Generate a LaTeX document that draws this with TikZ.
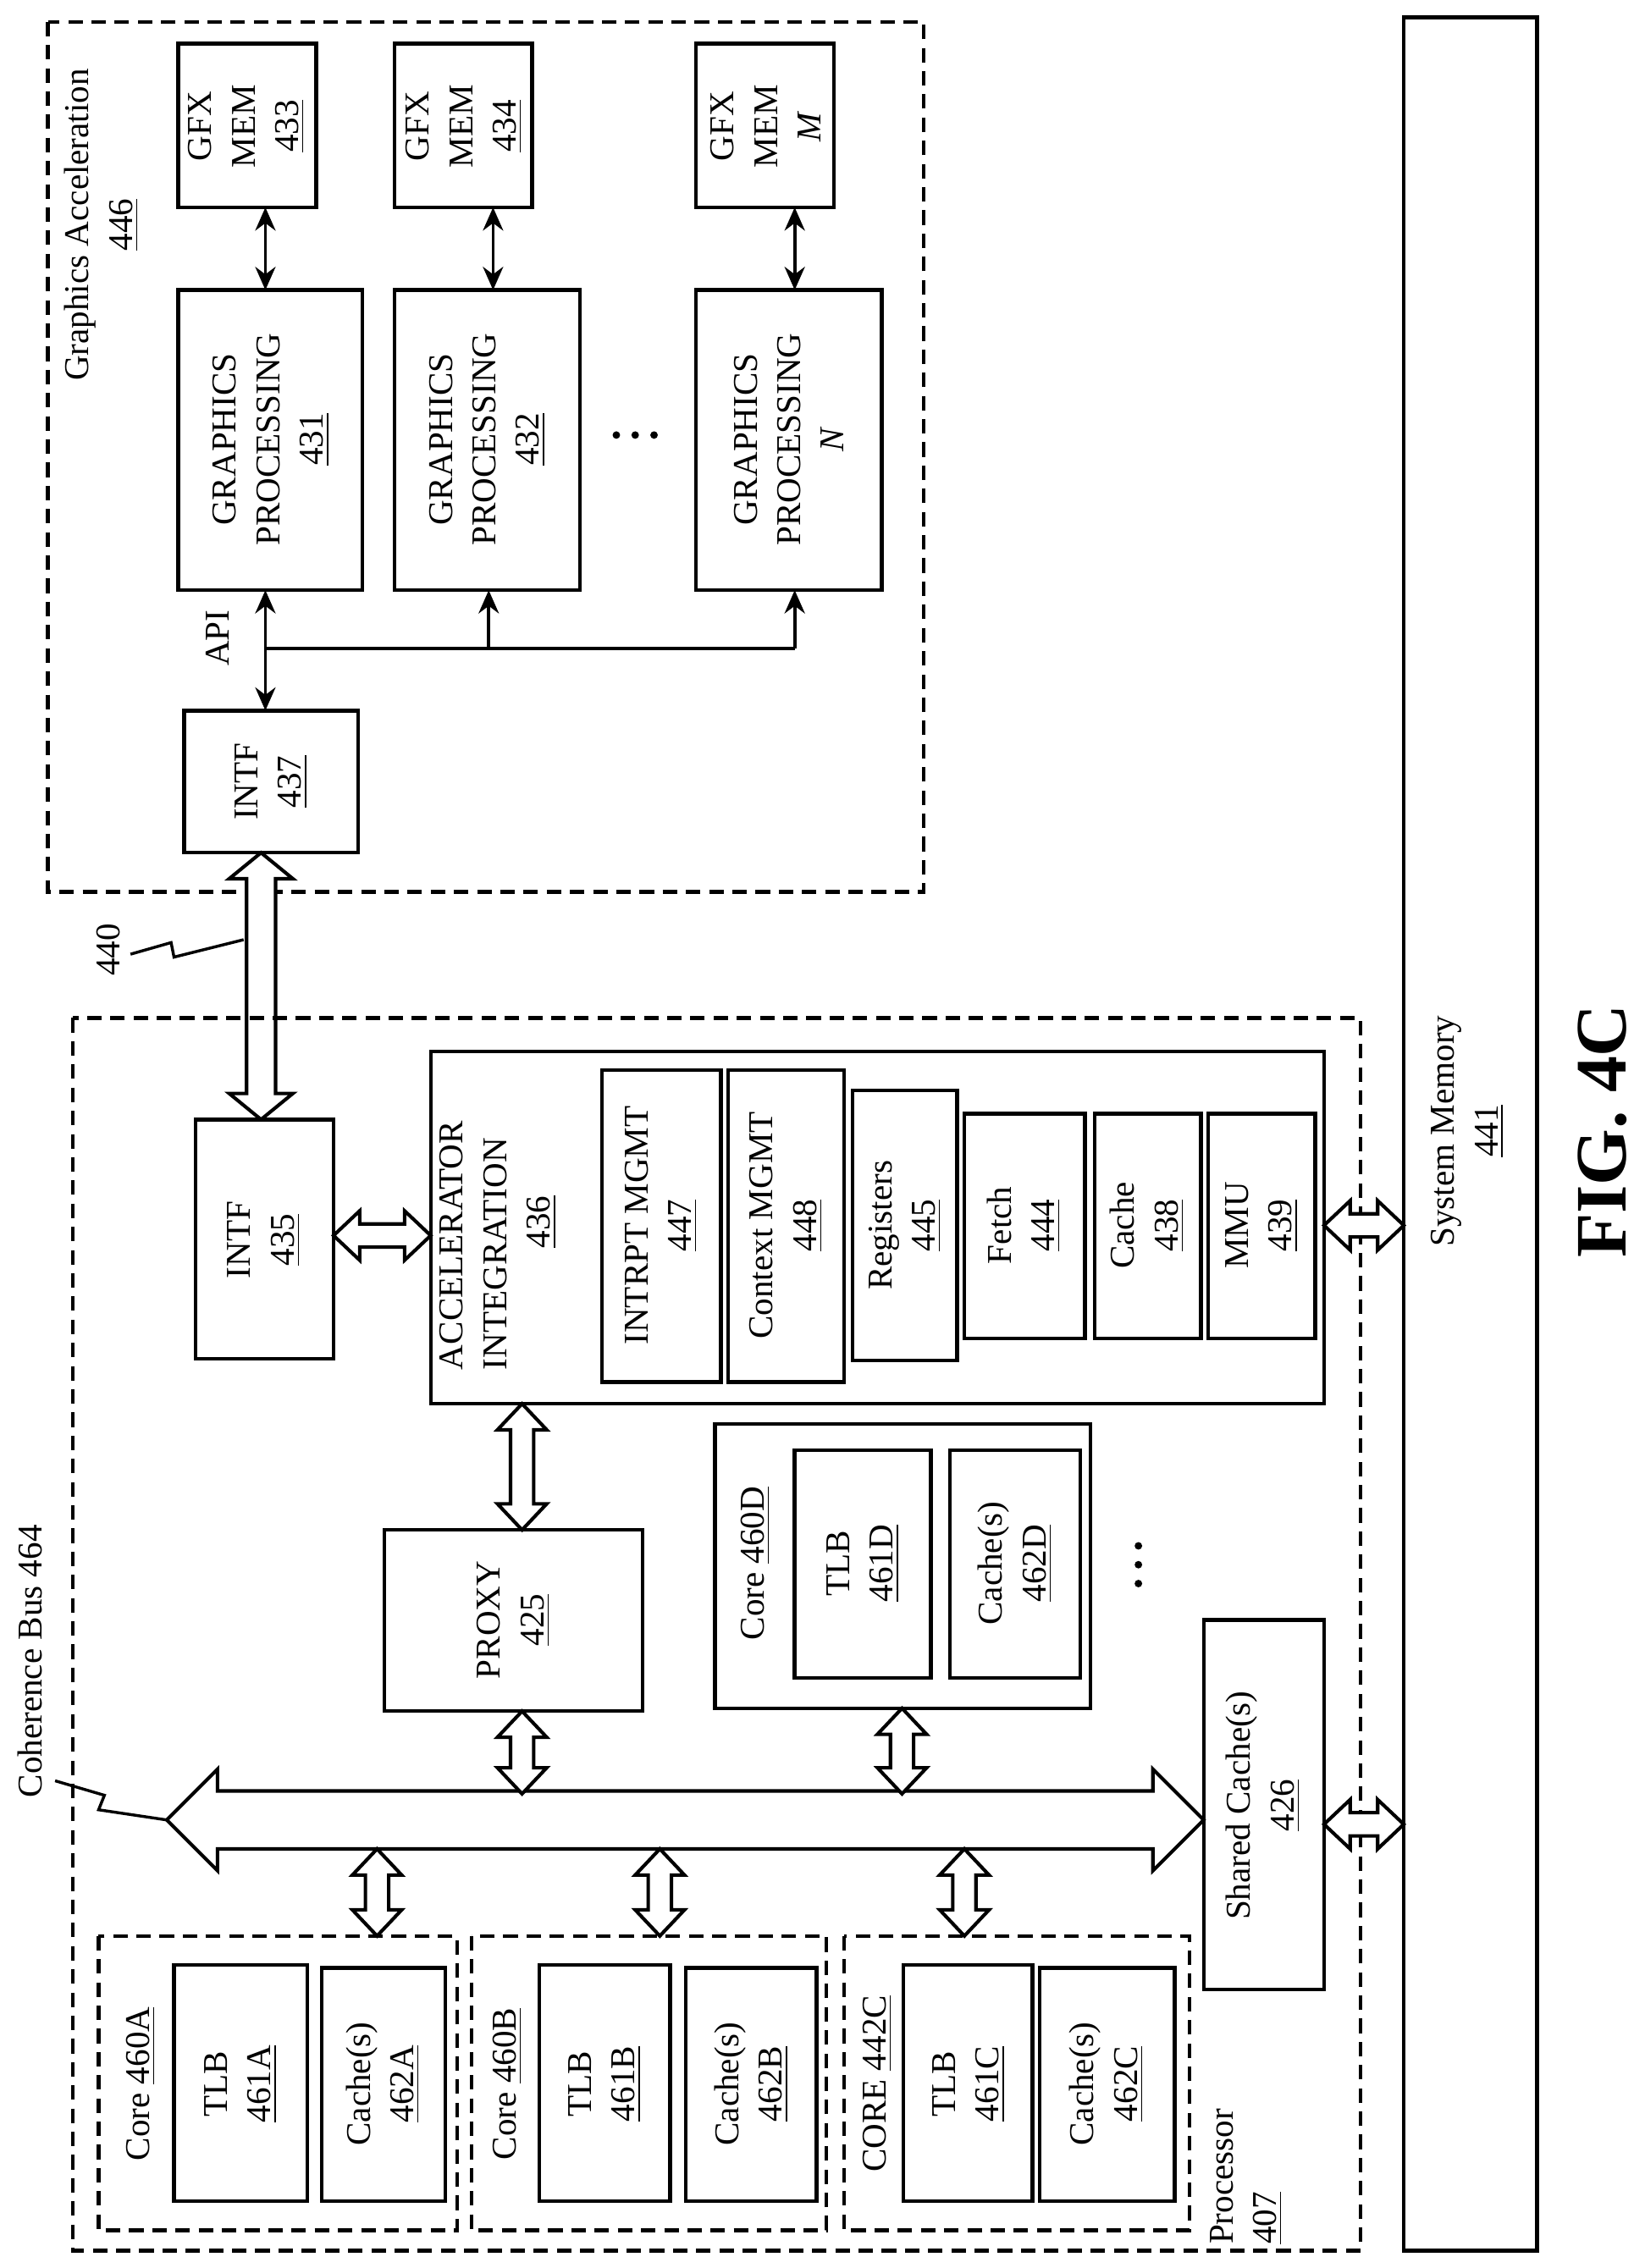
\documentclass[tikz,border=0pt]{standalone}
\usepackage{fontspec}
\setmainfont{Liberation Serif}
\usetikzlibrary{arrows.meta}
\begin{document}
\begin{tikzpicture}[x=0.5pt,y=-0.5pt,
  box/.style={line width=1.3pt},
  dbox/.style={line width=1.2pt,dash pattern=on 5pt off 3pt},
  txt/.style={rotate=90,align=center,font=\fontsize{12}{15}\selectfont,inner sep=0pt},
  ltxt/.style={rotate=90,align=left,font=\fontsize{12}{15}\selectfont,inner sep=0pt},
  ar/.style={line width=1.1pt,{Stealth[length=8pt,width=7pt]}-{Stealth[length=8pt,width=7pt]}},
  har/.style={line width=1.2pt,fill=white}]
\newcommand\varr[5]{% x y1 y2 shafthalf headhalf, headlen 18
 \draw[har] (#1,#2) -- ++(#5,18) -- (#1+#4,#2+18) -- (#1+#4,#3-18) -- (#1+#5,#3-18) -- (#1,#3) -- (#1-#5,#3-18) -- (#1-#4,#3-18) -- (#1-#4,#2+18) -- (#1-#5,#2+18) -- cycle;}
\newcommand\harr[5]{% y x1 x2 shafthalf headhalf
 \draw[har] (#2,#1) -- (#2+18,#1-#5) -- (#2+18,#1-#4) -- (#3-18,#1-#4) -- (#3-18,#1-#5) -- (#3,#1) -- (#3-18,#1+#5) -- (#3-18,#1+#4) -- (#2+18,#1+#4) -- (#2+18,#1+#5) -- cycle;}
\useasboundingbox (0,0) rectangle (1134,1564);
% Graphics acceleration
\draw[dbox] (33,15) rectangle (637,615);
\node[txt] (galbl) at (70,155) {Graphics Acceleration\\\underline{446}};
\draw[box] (123,30) rectangle (218,143); \node[txt] (m433) at (170,87) {GFX\\MEM\\\underline{433}};
\draw[box] (272,30) rectangle (367,143); \node[txt] (m434) at (320,87) {GFX\\MEM\\\underline{434}};
\draw[box] (480,30) rectangle (575,143); \node[txt] (mM) at (528,87) {GFX\\MEM\\\textit{M}};
\draw[box] (123,200) rectangle (250,407); \node[txt] (g431) at (187,303) {GRAPHICS\\PROCESSING\\\underline{431}};
\draw[box] (272,200) rectangle (400,407); \node[txt] (g432) at (336,303) {GRAPHICS\\PROCESSING\\\underline{432}};
\draw[box] (480,200) rectangle (608,407); \node[txt] (gN) at (544,303) {GRAPHICS\\PROCESSING\\\textit{N}};
\foreach \x in {425,438,451} \fill (\x,300) circle (2.6);
\coordinate (a1) at (183,143); \coordinate (b1) at (183,200);
\coordinate (a2) at (340,143); \coordinate (b2) at (340,200);
\coordinate (a3) at (548,143); \coordinate (b3) at (548,200);
\draw[ar] (a1) -- (b1); \draw[ar] (a2) -- (b2); \draw[ar] (a3) -- (b3);
\draw[box] (127,490) rectangle (247,588); \node[txt] (i437) at (187,539) {INTF\\\underline{437}};
\coordinate (p1) at (183,490); \coordinate (q1) at (183,407);
\draw[ar] (p1) -- (q1);
\coordinate (j1) at (183,447); \coordinate (j2) at (337,447); \coordinate (j3) at (548,447);
\coordinate (q2) at (337,407); \coordinate (q3) at (548,407);
\draw[line width=1.1pt] (j1) -- (j3);
\draw[line width=1.1pt,-{Stealth[length=8pt,width=7pt]}] (j2) -- (q2);
\draw[line width=1.1pt,-{Stealth[length=8pt,width=7pt]}] (j3) -- (q3);
\node[txt] (api) at (150,440) {API};
% link 440
\varr{180}{588}{772}{10}{22}
\node[txt] (l440) at (75,655) {440};
\draw[line width=1pt] (90,658) -- (118,650) -- (120,660) -- (168,648);
% System memory
\draw[box] (968,12) rectangle (1060,1552);
\node[txt] (sm) at (1012,780) {System Memory\\\underline{441}};
\node[rotate=90,font=\fontsize{25}{28}\selectfont\bfseries] (fig) at (1105,780) {FIG. 4C};
% Processor
\draw[dbox] (50,702) rectangle (938,1552);
\node[ltxt,anchor=north west] (proc) at (834,1548) {Processor\\\underline{407}};
\draw[box] (135,772) rectangle (230,937); \node[txt] (i435) at (182,855) {INTF\\\underline{435}};
\draw[box] (297,725) rectangle (913,968);
\node[ltxt,anchor=north west] (ai) at (303,945) {ACCELERATOR\\INTEGRATION\\\hspace*{42pt}\underline{436}};
\draw[box] (415,738) rectangle (497,953); \node[txt] (b447) at (456,845) {INTRPT MGMT\\\underline{447}};
\draw[box] (502,738) rectangle (582,953); \node[txt] (b448) at (542,845) {Context MGMT\\\underline{448}};
\draw[box] (588,752) rectangle (660,938); \node[txt] (b445) at (624,845) {Registers\\\underline{445}};
\draw[box] (665,768) rectangle (748,923); \node[txt] (b444) at (706,845) {Fetch\\\underline{444}};
\draw[box] (755,768) rectangle (828,923); \node[txt] (b438) at (791,845) {Cache\\\underline{438}};
\draw[box] (833,768) rectangle (907,923); \node[txt] (b439) at (870,845) {MMU\\\underline{439}};
\harr{852}{230}{297}{8}{17}
\harr{845}{913}{968}{8}{17}
\varr{360}{968}{1055}{8}{17}
\draw[box] (265,1055) rectangle (443,1180); \node[txt] (proxy) at (354,1117) {PROXY\\\underline{425}};
\draw[box] (493,982) rectangle (752,1178);
\node[txt] (c460d) at (521,1078) {Core \underline{460D}};
\draw[box] (548,1000) rectangle (642,1157); \node[txt] (t461d) at (595,1078) {TLB\\\underline{461D}};
\draw[box] (655,1000) rectangle (745,1157); \node[txt] (k462d) at (700,1078) {Cache(s)\\\underline{462D}};
\foreach \y in {1066,1079,1092} \fill (785,\y) circle (2.6);
\draw[box] (830,1117) rectangle (913,1372); \node[txt] (sc) at (871,1245) {Shared Cache(s)\\\underline{426}};
% coherence bus
\draw[har] (115,1255) -- (150,1220) -- (150,1235) -- (795,1235) -- (795,1220) -- (830,1255) -- (795,1290) -- (795,1275) -- (150,1275) -- (150,1290) -- cycle;
\node[ltxt,anchor=north west] (cb) at (12,1240) {Coherence Bus 464};
\draw[line width=1pt] (38,1228) -- (72,1238) -- (68,1248) -- (115,1255);
\varr{360}{1180}{1237}{8}{17}
\varr{622}{1178}{1237}{8}{17}
\varr{260}{1275}{1335}{8}{17}
\varr{455}{1275}{1335}{8}{17}
\varr{665}{1275}{1335}{8}{17}
\harr{1258}{913}{968}{8}{17}
% cores
\draw[dbox] (68,1335) rectangle (315,1538);
\node[txt] (c460a) at (97,1437) {Core \underline{460A}};
\draw[box] (120,1355) rectangle (212,1518); \node[txt] (t461a) at (166,1437) {TLB\\\underline{461A}};
\draw[box] (222,1357) rectangle (307,1518); \node[txt] (k462a) at (264,1437) {Cache(s)\\\underline{462A}};
\draw[dbox] (325,1335) rectangle (570,1538);
\node[txt] (c460b) at (350,1437) {Core \underline{460B}};
\draw[box] (372,1355) rectangle (462,1518); \node[txt] (t461b) at (417,1437) {TLB\\\underline{461B}};
\draw[box] (473,1357) rectangle (563,1518); \node[txt] (k462b) at (518,1437) {Cache(s)\\\underline{462B}};
\draw[dbox] (582,1335) rectangle (820,1538);
\node[txt] (c442c) at (605,1437) {CORE \underline{442C}};
\draw[box] (623,1355) rectangle (712,1518); \node[txt] (t461c) at (668,1437) {TLB\\\underline{461C}};
\draw[box] (717,1357) rectangle (810,1518); \node[txt] (k462c) at (763,1437) {Cache(s)\\\underline{462C}};
\end{tikzpicture}
\end{document}
